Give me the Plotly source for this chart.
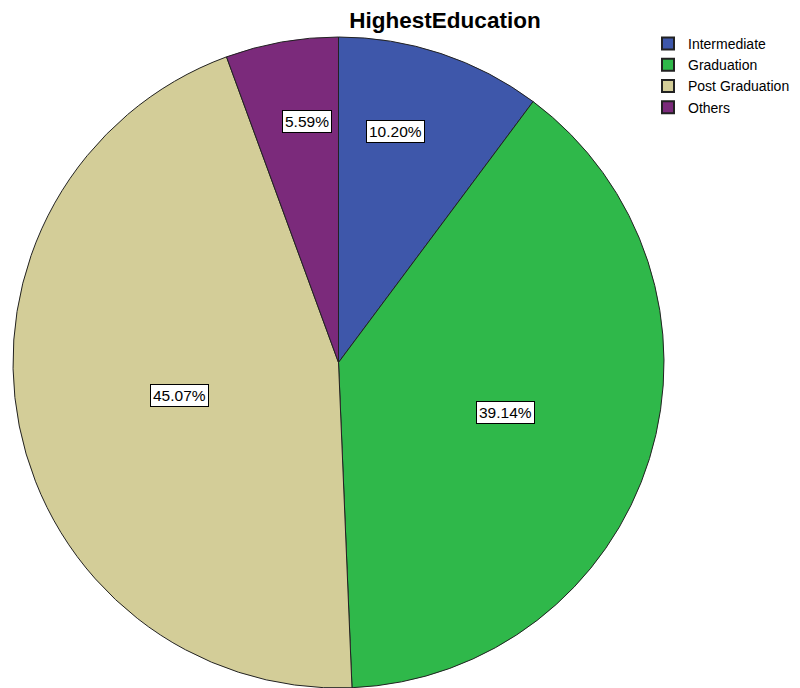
import math
import plotly.graph_objects as go

categories = ["Intermediate", "Graduation", "Post Graduation", "Others"]
percentages = [10.20, 39.14, 45.07, 5.59]
label_texts = ["10.20%", "39.14%", "45.07%", "5.59%"]
colors = ["#3E57AA", "#2FB84A", "#D3CD98", "#7B2A7B"]

# the page body adds an 8px margin, so the figure is 792x680
W, H = 792, 680
ML, MR, MT, MB = 5, 136, 29, 0

fig = go.Figure(go.Pie(
    labels=categories,
    values=percentages,
    sort=False,
    direction="clockwise",
    rotation=0,
    marker=dict(colors=colors, line=dict(color="#222222", width=1)),
    textinfo="none",
    hoverinfo="label+percent",
    domain=dict(x=[0, 1], y=[0, 1]),
))

# label boxes placed along each slice's mid-angle
pw, ph = W - ML - MR, H - MT - MB
cx, cy = ML + pw / 2, MT + ph / 2
R = min(pw, ph) / 2
rad_frac = [0.73, 0.534, 0.50, 0.748]
ang_nudge = [-4.5, -0.6, -0.6, 2.7]
total = sum(percentages)
cum = 0.0
for i, v in enumerate(percentages):
    mid = (cum + v / 2) / total * 360.0 + ang_nudge[i]
    cum += v
    a = math.radians(mid)
    px = cx + rad_frac[i] * R * math.sin(a)
    py = cy - rad_frac[i] * R * math.cos(a)
    fig.add_annotation(
        x=(px - ML) / pw, y=1 - (py - MT) / ph, xref="paper", yref="paper",
        text=label_texts[i], showarrow=False,
        font=dict(family="Liberation Sans, Arial", size=15.5, color="#000000"),
        bgcolor="#FFFFFF", bordercolor="#000000", borderwidth=1, borderpad=2,
        xanchor="center", yanchor="middle",
    )

fig.update_layout(
    width=W, height=H,
    margin=dict(l=ML, r=MR, t=MT, b=MB, autoexpand=False),
    paper_bgcolor="#FFFFFF",
    plot_bgcolor="#FFFFFF",
    title=dict(
        text="<b>HighestEducation</b>",
        font=dict(family="Liberation Sans, Arial", size=22.5, color="#000000"),
        x=437 / W, xanchor="center", xref="container",
        y=1 - 12 / H, yanchor="middle", yref="container",
    ),
    legend=dict(
        x=(640 - ML) / pw, y=1 - (20 - MT) / ph, xanchor="left", yanchor="top",
        font=dict(family="Liberation Sans, Arial", size=14, color="#000000"),
        bgcolor="rgba(0,0,0,0)", itemsizing="constant", tracegroupgap=0,
    ),
    showlegend=True,
)

fig.write_html("out.html")
